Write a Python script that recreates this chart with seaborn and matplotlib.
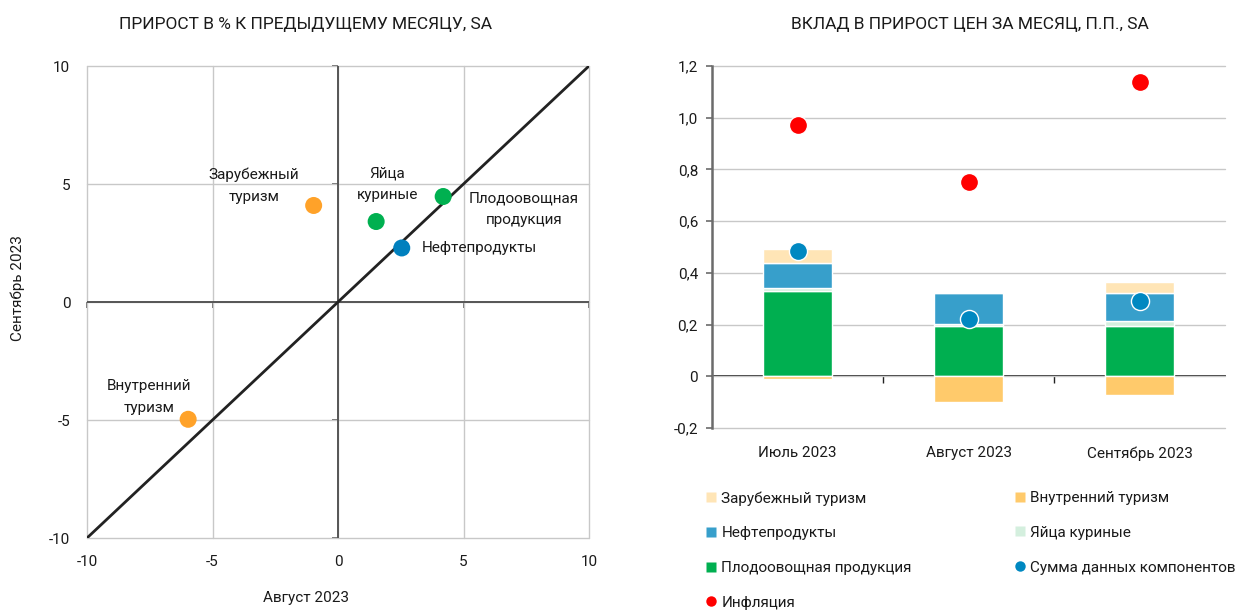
import matplotlib
matplotlib.use("Agg")
import matplotlib.pyplot as plt
import seaborn as sns
import numpy as np
import pandas as pd
from matplotlib.lines import Line2D
from matplotlib.ticker import FuncFormatter

sns.set_theme(style="white")
FONT = ['Roboto', 'DejaVu Sans']
plt.rcParams['font.family'] = FONT
plt.rcParams['axes.unicode_minus'] = False

# ---- left chart data ----
scatter_labels = ["Зарубежный\nтуризм", "Яйца\nкуриные", "Плодоовощная\nпродукция", "Нефтепродукты", "Внутренний\nтуризм"]
aug_values = [-0.97, 1.52, 4.19, 2.54, -5.97]
sep_values = [4.09, 3.41, 4.47, 2.29, -4.97]
scatter_colors = ["#FFA229", "#00B050", "#00B050", "#0080BE", "#FFA229"]
axis_ticks = [-10, -5, 0, 5, 10]

# ---- right chart data ----
months = ["Июль 2023", "Август 2023", "Сентябрь 2023"]
fruit_veg = [0.328, 0.196, 0.194]
eggs = [0.015, 0.005, 0.02]
oil = [0.095, 0.12, 0.11]
foreign_tourism = [0.055, 0.0, 0.04]
domestic_tourism = [-0.012, -0.099, -0.073]
components_sum = [0.485, 0.222, 0.292]
inflation = [0.972, 0.752, 1.137]
right_ticks = [-0.2, 0.0, 0.2, 0.4, 0.6, 0.8, 1.0, 1.2]

C_FOREIGN = "#FFE5B6"
C_DOMESTIC = "#FFCA6B"
C_OIL = "#379FCB"
C_EGGS = "#D4EFDE"
C_FRUIT = "#00AF50"
C_SUM = "#0088C1"
C_INFL = "#FF0000"
GRID = "#C8C8C8"
TXT = "#1a1a1a"
AXC = "#555555"
FS = 11

fig = plt.figure(figsize=(12.37, 6.10), dpi=100)
W, H = 1237, 610

def ax_rect(l, t, r, b):
    return [l / W, 1 - b / H, (r - l) / W, (b - t) / H]

# ================= LEFT =================
ax1 = fig.add_axes(ax_rect(87, 66, 589, 538))
ax1.set_xlim(-10, 10)
ax1.set_ylim(-10, 10)
for s in ax1.spines.values():
    s.set_visible(False)
ax1.set_xticks(axis_ticks)
ax1.set_yticks(axis_ticks)
ax1.grid(True, color=GRID, lw=1)
for gl in ax1.get_xgridlines() + ax1.get_ygridlines():
    gl.set_clip_on(False)
ax1.set_axisbelow(True)
ax1.tick_params(axis='both', length=0, labelsize=FS, colors=TXT, pad=12)
ax1.axhline(0, color=AXC, lw=1.4, zorder=2)
ax1.axvline(0, color=AXC, lw=1.4, zorder=2)
sy = ax1.secondary_yaxis(0.5)
sy.set_yticks(axis_ticks)
sy.set_yticklabels([])
sy.yaxis.set_ticks_position('left')
sy.tick_params(length=4, width=1.2, direction="out", color=AXC)
for s in sy.spines.values():
    s.set_visible(False)
sx = ax1.secondary_xaxis(0.5)
sx.set_xticks(axis_ticks)
sx.set_xticklabels([])
sx.xaxis.set_ticks_position('bottom')
sx.tick_params(length=4, width=1.2, direction="out", color=AXC)
for s in sx.spines.values():
    s.set_visible(False)
ax1.plot([-10, 10], [-10, 10], color="#222222", lw=2, zorder=2)

df_sc = pd.DataFrame({"aug": aug_values, "sep": sep_values, "lab": scatter_labels})
sns.scatterplot(data=df_sc, x="aug", y="sep", hue="lab", palette=dict(zip(scatter_labels, scatter_colors)),
                s=150, edgecolor="none", legend=False, ax=ax1, zorder=3)
ax1.set_xlabel("")
ax1.set_ylabel("")

offsets = [(-43, 14.4, 'center'), (8, 26.6, 'center'), (58, -9.4, 'center'), (14.4, 0, 'left'), (-28, 15.8, 'center')]
for (x, y, lab), (dx, dy, ha) in zip(zip(aug_values, sep_values, scatter_labels), offsets):
    ax1.annotate(lab, (x, y), xytext=(dx, dy), textcoords="offset points", ha=ha, va="center",
                 fontsize=FS, color=TXT, linespacing=1.7)

fig.text(306 / W, 1 - 24 / H, "ПРИРОСТ В % К ПРЕДЫДУЩЕМУ МЕСЯЦУ, SA", ha="center", va="center", fontsize=12.5, color=TXT)
fig.text(306 / W, 1 - 598 / H, "Август 2023", ha="center", va="center", fontsize=FS, color=TXT)
fig.text(18 / W, 1 - 288 / H, "Сентябрь 2023", ha="center", va="center", rotation=90, fontsize=FS, color=TXT)

# ================= RIGHT =================
ax2 = fig.add_axes(ax_rect(712, 66, 1225, 428))
x = np.arange(len(months))
bw = 0.4
ax2.set_xlim(-0.5, len(months) - 0.5)
ax2.set_ylim(-0.2, 1.2)
for s in ["top", "right", "bottom"]:
    ax2.spines[s].set_visible(False)
ax2.spines["left"].set_visible(True)
ax2.spines["left"].set_color("#6b6b6b")
ax2.spines["left"].set_linewidth(1.8)
ax2.spines["left"].set_zorder(6)
ax2.set_yticks(right_ticks)
ax2.yaxis.set_major_formatter(FuncFormatter(lambda v, p: "0" if abs(v) < 1e-9 else f"{v:.1f}".replace(".", ",")))
ax2.grid(True, axis="y", color=GRID, lw=1)
for gl in ax2.get_ygridlines():
    gl.set_clip_on(False)
ax2.set_axisbelow(True)
ax2.tick_params(axis='y', left=True, length=4, width=1.2, direction="out", labelsize=FS, pad=6)
ax2.tick_params(axis='y', colors="#6b6b6b", labelcolor=TXT)
ax2.set_xticks(x)
ax2.set_xticklabels(months)
ax2.tick_params(axis='x', length=0, labelsize=FS, labelcolor=TXT, pad=13)

ekw = dict(width=bw, edgecolor="white", linewidth=1, zorder=2)
b0 = np.array(fruit_veg)
ax2.bar(x, fruit_veg, color=C_FRUIT, **ekw)
ax2.bar(x, eggs, bottom=b0, color=C_EGGS, **ekw)
b1 = b0 + np.array(eggs)
ax2.bar(x, oil, bottom=b1, color=C_OIL, **ekw)
b2 = b1 + np.array(oil)
ax2.bar(x, foreign_tourism, bottom=b2, color=C_FOREIGN, **ekw)
ax2.bar(x, domestic_tourism, color=C_DOMESTIC, **ekw)

zero_loc = (0 - (-0.2)) / 1.4
sec = ax2.secondary_xaxis(zero_loc)
sec.set_xticks([0.5, 1.5])
sec.set_xticklabels([])
sec.tick_params(length=5, width=1, direction="out", color="#222222")
sec.spines["bottom"].set_color("#222222")
sec.spines["bottom"].set_linewidth(1.3)
sec.spines["bottom"].set_zorder(4)

df_dots = pd.DataFrame({"m": x, "sum": components_sum, "infl": inflation})
sns.scatterplot(data=df_dots, x="m", y="sum", color=C_SUM, s=170, edgecolor="white", linewidth=1, ax=ax2, zorder=5, legend=False)
sns.scatterplot(data=df_dots, x="m", y="infl", color=C_INFL, s=170, edgecolor="white", linewidth=1, ax=ax2, zorder=5, legend=False)
ax2.set_xlabel("")
ax2.set_ylabel("")

fig.text(970 / W, 1 - 24 / H, "ВКЛАД В ПРИРОСТ ЦЕН ЗА МЕСЯЦ, П.П., SA", ha="center", va="center", fontsize=12.5, color=TXT)

def sq(c):
    return Line2D([], [], marker="s", ls="none", markersize=7, markerfacecolor=c, markeredgecolor="none")
def dot(c):
    return Line2D([], [], marker="o", ls="none", markersize=7.5, markerfacecolor=c, markeredgecolor="none")

col1 = [(sq(C_FOREIGN), "Зарубежный туризм"), (sq(C_OIL), "Нефтепродукты"),
        (sq(C_FRUIT), "Плодоовощная продукция"), (dot(C_INFL), "Инфляция")]
col2 = [(sq(C_DOMESTIC), "Внутренний туризм"), (sq(C_EGGS), "Яйца куриные"),
        (dot(C_SUM), "Сумма данных компонентов")]
lkw = dict(frameon=False, fontsize=FS, handlelength=0.7, handletextpad=0.3, labelspacing=1.36,
           borderaxespad=0, borderpad=0, labelcolor=TXT)
leg1 = fig.legend([h for h, _ in col1], [l for _, l in col1], loc="upper left",
                  bbox_to_anchor=(706 / W, 1 - 491 / H), **lkw)
leg2 = fig.legend([h for h, _ in col2], [l for _, l in col2], loc="upper left",
                  bbox_to_anchor=(1015 / W, 1 - 491 / H), **lkw)

fig.savefig("out.png", dpi=100, facecolor="white")
